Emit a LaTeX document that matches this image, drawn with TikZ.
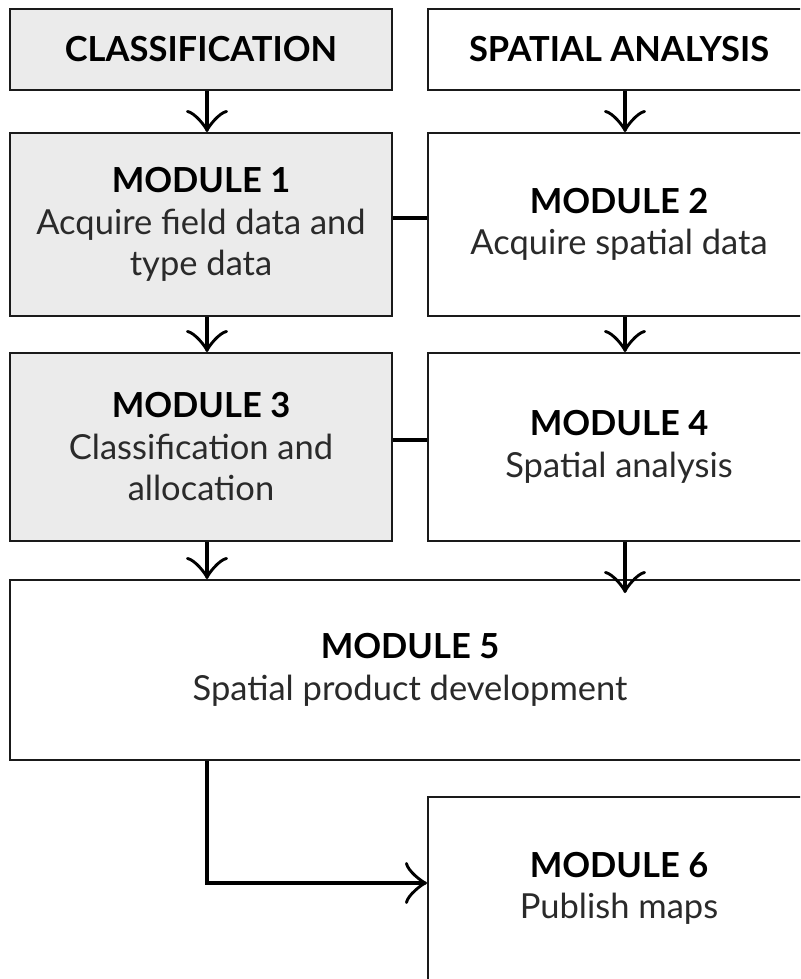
\documentclass[tikz,border=0pt]{standalone}
\usepackage{fontspec}
\setmainfont{Lato}
\usetikzlibrary{arrows.meta}
\definecolor{boxgray}{HTML}{EBEBEB}
\definecolor{txt}{HTML}{2A2A2A}
\definecolor{ln}{HTML}{1A1A1A}
\begin{document}
\begin{tikzpicture}[x=1pt,y=-1pt,
  box/.style={draw=ln, line width=2pt, minimum width=382pt, align=center, inner sep=0pt,
    font=\fontsize{34.5}{41.5}\selectfont, text=txt},
  graybox/.style={box, fill=boxgray},
  arr/.style={draw=black, line width=3.6pt, -{Classical TikZ Rightarrow[length=22pt,width=42pt]}},
  conn/.style={draw=black, line width=3.4pt}
]
\useasboundingbox (0,0) rectangle (800,979);
\clip (0,0) rectangle (800,979);
\newcommand{\hd}[1]{{\bfseries\color{black}#1}}
\node[graybox, minimum height=81pt] (cls) at (201,49.5) {\hd{CLASSIFICATION}};
\node[box, minimum height=81pt] (spa) at (619,49.5) {\hd{SPATIAL ANALYSIS}};
\node[graybox, minimum height=183pt] (m1) at (201,224.5) {\hd{MODULE 1}\\Acquire field data and\\type data};
\node[box, minimum height=183pt] (m2) at (619,224.5) {\hd{MODULE 2}\\Acquire spatial data};
\node[graybox, minimum height=188pt] (m3) at (201,447) {\hd{MODULE 3}\\Classification and\\allocation};
\node[box, minimum height=188pt] (m4) at (619,447) {\hd{MODULE 4}\\Spatial analysis};
\node[box, minimum height=180pt, minimum width=800pt] (m5) at (410,670) {\hd{MODULE 5}\\Spatial product development};
\node[box, minimum height=183pt] (m6) at (619,888.5) {\hd{MODULE 6}\\Publish maps};
\coordinate (m5in) at ([yshift=-14pt]m5.north);
\draw[arr] ([xshift=6pt]cls.south) -- ([xshift=6pt]m1.north);
\draw[arr] ([xshift=6pt]spa.south) -- ([xshift=6pt]m2.north);
\draw[arr] ([xshift=6pt]m1.south) -- ([xshift=6pt]m3.north);
\draw[arr] ([xshift=6pt]m2.south) -- ([xshift=6pt]m4.north);
\draw[arr] ([xshift=6pt]m3.south) -- ([xshift=6pt]m3.south |- m5.north);
\draw[arr] ([xshift=6pt]m4.south) -- ([xshift=6pt]m4.south |- m5in);
\draw[arr] ([xshift=6pt]m5.south -| m1.south) |- ([yshift=5.5pt]m6.west);
\draw[conn] ([yshift=6.5pt]m1.east) -- ([yshift=6.5pt]m1.east -| m2.west);
\draw[conn] ([yshift=7pt]m3.east) -- ([yshift=7pt]m3.east -| m4.west);
\end{tikzpicture}
\end{document}
